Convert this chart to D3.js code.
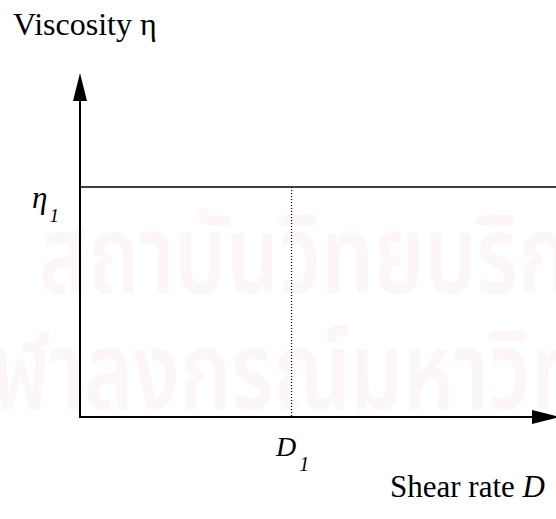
<!DOCTYPE html>
<html>
<head>
<meta charset="utf-8">
<script src="https://cdn.jsdelivr.net/npm/d3@7"></script>
<style>
  html, body { margin: 0; padding: 0; background: #fff; }
  svg { display: block; }
  text { font-family: "Liberation Serif", "Times New Roman", serif; fill: #000; }
</style>
</head>
<body>
<svg id="chart" width="556" height="519"></svg>
<script>
// chart values
const shearRate = [0, 2.25];        // D, newtonian fluid: flat line
const viscosity = [1, 1];           // eta stays at eta_1
const markD = [1];                  // D_1 position
const xLabel = "Shear rate ";
const yLabel = "Viscosity η";
const watermark = ["สถาบันวิทยบริการ", "จุฬาลงกรณ์มหาวิทยาลัย"];

const svg = d3.select("#chart");

const x = d3.scaleLinear().domain([0, 2.25]).range([80, 556]);
const y = d3.scaleLinear().domain([0, 1.5]).range([417, 72]);

// faint watermark behind everything
const wmPos = [[39, 293], [-54, 409]];
svg.append("g")
    .selectAll("text")
    .data(watermark)
    .enter().append("text")
    .attr("transform", (d, i) => `translate(${wmPos[i][0]},${wmPos[i][1]}) scale(0.77,1)`)
    .attr("font-size", 108)
    .attr("font-weight", 600)
    .style("font-family", "'Noto Sans Thai', 'Noto Sans', 'DejaVu Sans', sans-serif")
    .style("fill", "#fcf6f9")
    .text(d => d);

// arrow heads
const defs = svg.append("defs");
defs.append("marker")
    .attr("id", "arr")
    .attr("viewBox", "0 0 28 14")
    .attr("refX", 0).attr("refY", 7)
    .attr("markerWidth", 28).attr("markerHeight", 14)
    .attr("markerUnits", "userSpaceOnUse")
    .attr("orient", "auto")
    .append("path").attr("d", "M0,0L28,7L0,14Z").attr("fill", "#000");

// axes
svg.append("line")
    .attr("x1", x(0)).attr("y1", y(0))
    .attr("x2", x(0)).attr("y2", y(1.5) + 29)
    .attr("stroke", "#000").attr("stroke-width", 2)
    .attr("marker-end", "url(#arr)");
svg.append("line")
    .attr("x1", x(0) - 1).attr("y1", y(0))
    .attr("x2", x(2.25) - 24).attr("y2", y(0))
    .attr("stroke", "#000").attr("stroke-width", 2)
    .attr("marker-end", "url(#arr)");

// viscosity curve
const line = d3.line().x(d => x(d[0])).y(d => y(d[1]));
svg.append("path")
    .datum(d3.zip(shearRate, viscosity))
    .attr("d", line)
    .attr("fill", "none")
    .attr("stroke", "#000")
    .attr("stroke-width", 1.6);

// dotted marker at D1
svg.selectAll(".dmark")
    .data(markD)
    .enter().append("line")
    .attr("class", "dmark")
    .attr("x1", d => x(d)).attr("x2", d => x(d))
    .attr("y1", y(viscosity[0])).attr("y2", y(0))
    .attr("stroke", "#000")
    .attr("stroke-width", 1.2)
    .attr("stroke-dasharray", "1,2");

// labels
svg.append("text")
    .attr("x", 13).attr("y", 35)
    .attr("font-size", 32)
    .text(yLabel);

const xl = svg.append("text")
    .attr("x", 390).attr("y", 497)
    .attr("font-size", 31)
    .text(xLabel);
xl.append("tspan").attr("font-style", "italic").text("D");

const e1 = svg.append("text")
    .attr("x", 32).attr("y", 208)
    .attr("font-size", 31)
    .attr("font-style", "italic")
    .text("η");
e1.append("tspan").attr("font-size", 19).attr("dx", 2).attr("dy", 14).text("1");

const d1 = svg.append("text")
    .attr("x", 276).attr("y", 456)
    .attr("font-size", 28)
    .attr("font-style", "italic")
    .text("D");
d1.append("tspan").attr("font-size", 20).attr("dx", 3).attr("dy", 15).text("1");
</script>
</body>
</html>
